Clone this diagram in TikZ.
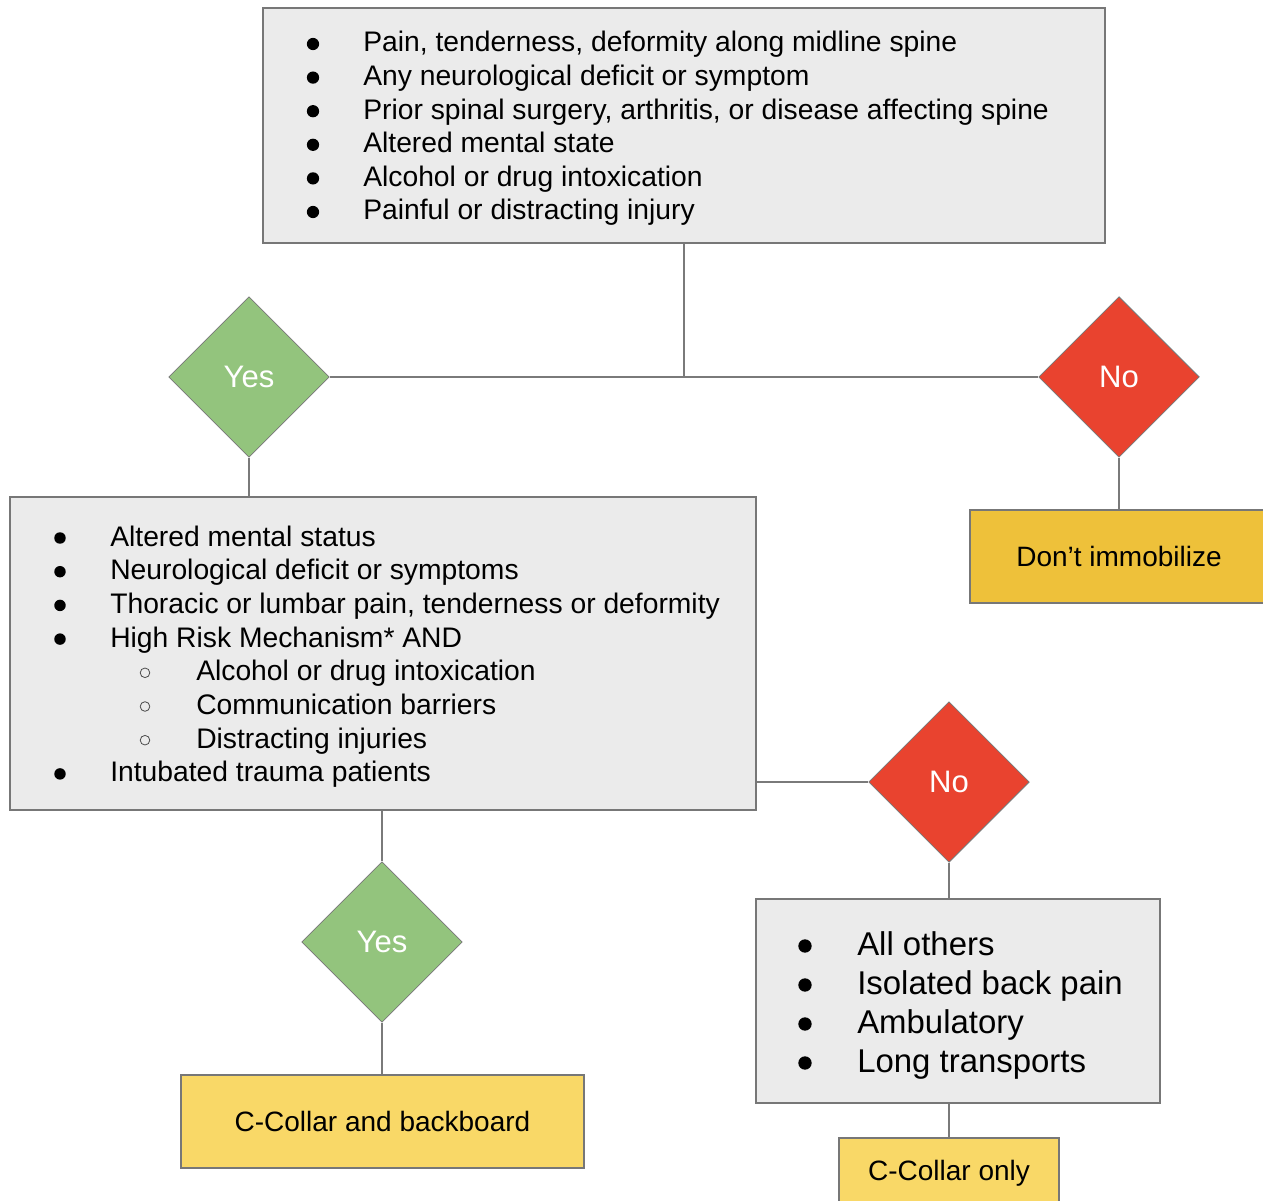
\documentclass[tikz,border=0pt]{standalone}
\usepackage{fontspec}
\setmainfont{Liberation Sans}
\usetikzlibrary{shapes.geometric,fit}

\definecolor{boxgray}{HTML}{EBEBEB}
\definecolor{edgegray}{HTML}{777777}
\definecolor{linkgray}{HTML}{7A7A7A}
\definecolor{yesgreen}{HTML}{93C47D}
\definecolor{nored}{HTML}{E9432F}
\definecolor{darkyellow}{HTML}{EEC13A}
\definecolor{lightyellow}{HTML}{F9D867}

\tikzset{
  panel/.style={draw=edgegray, line width=1pt, fill=boxgray, inner sep=0pt},
  outcome/.style={draw=edgegray, line width=1pt, inner sep=0pt},
  outlabel/.style={anchor=center, inner sep=0pt, font=\fontsize{21}{25}\selectfont},
  decision/.style={diamond, shape aspect=1, minimum size=120.5pt, inner sep=0pt,
    draw=edgegray, line width=0.6pt, text=white,
    font=\fontsize{23.3}{27}\selectfont},
  item/.style={anchor=base west, inner sep=0pt, font=\fontsize{21.2}{25}\selectfont},
  bigitem/.style={anchor=base west, inner sep=0pt, font=\fontsize{24.7}{29}\selectfont},
  link/.style={draw=linkgray, line width=1.3pt},
  dot/.style={fill=black},
  ring/.style={draw=black!70, line width=0.6pt}
}

\begin{document}
\begin{tikzpicture}[x=0.75pt, y=-0.75pt]
\clip (0,0) rectangle (1263,1201);

% first screening box
\node[panel, fit={(263,8) (1105,243)}] (top) {};
\foreach \t [count=\i] in {{Pain, tenderness, deformity along midline spine},
  {Any neurological deficit or symptom},
  {Prior spinal surgery, arthritis, or disease affecting spine},
  {Altered mental state},
  {Alcohol or drug intoxication},
  {Painful or distracting injury}} {
  \node[item] (ta\i) at (363, {52+33.6*(\i-1)}) {\t};
  \fill[dot] (313, {44+33.6*(\i-1)}) circle[radius=4.6pt];
}

% first decision
\node[decision, fill=yesgreen] (yes1) at (249,377) {\raisebox{-2pt}{Yes}};
\node[decision, fill=nored] (no1) at (1119,377) {No};
\node[outcome, fill=darkyellow, fit={(970,510) (1268,603)}] (dont) {};
\node[outlabel] (dontlbl) at (dont.center) {Don’t immobilize};

% second screening box
\node[panel, fit={(10,497) (756,810)}] (mid) {};
\foreach \t [count=\i] in {{Altered mental status},
  {Neurological deficit or symptoms},
  {Thoracic or lumbar pain, tenderness or deformity},
  {High Risk Mechanism* AND}} {
  \node[item] (tb\i) at (110, {546+33.7*(\i-1)}) {\t};
  \fill[dot] (60, {538+33.7*(\i-1)}) circle[radius=4.3pt];
}
\foreach \t [count=\i] in {{Alcohol or drug intoxication},
  {Communication barriers},
  {Distracting injuries}} {
  \node[item] (tc\i) at (196, {680.8+33.7*(\i-1)}) {\t};
  \draw[ring] (145, {672.8+33.7*(\i-1)}) circle[radius=3.6pt];
}
\node[item] (tb5) at (110, 781.9) {Intubated trauma patients};
\fill[dot] (60, 773.9) circle[radius=4.3pt];

% second decision
\node[decision, fill=nored] (no2) at (949,782) {No};
\node[decision, fill=yesgreen] (yes2) at (382,942) {\raisebox{-2pt}{Yes}};

% remaining cases
\node[panel, fit={(756,899) (1160,1103)}] (rest) {};
\foreach \t [count=\i] in {{All others},
  {Isolated back pain},
  {Ambulatory},
  {Long transports}} {
  \node[bigitem] (td\i) at (857, {955+39*(\i-1)}) {\t};
  \fill[dot] (805, {946+39*(\i-1)}) circle[radius=5pt];
}

% outcomes
\node[outcome, fill=lightyellow, fit={(181,1075) (584,1168)}] (board) {};
\node[outlabel] (boardlbl) at (board.center) {C-Collar and backboard};
\node[outcome, fill=lightyellow, fit={(839,1138) (1059,1208)}] (only) {};
\node[outlabel] (onlylbl) at (949,1173) {C-Collar only};

% connectors
\draw[link] (yes1.east) -- (no1.west);
\draw[link] (top.south) -- (top.south |- yes1.east);
\draw[link] (yes1.south) -- (yes1.south |- mid.north);
\draw[link] (no1.south) -- (no1.south |- dont.north);
\draw[link] (mid.east |- no2.west) -- (no2.west);
\draw[link] (no2.south) -- (no2.south |- rest.north);
\draw[link] (rest.south -| only.north) -- (only.north);
\draw[link] (yes2.north |- mid.south) -- (yes2.north);
\draw[link] (yes2.south) -- (yes2.south |- board.north);
\end{tikzpicture}
\end{document}
